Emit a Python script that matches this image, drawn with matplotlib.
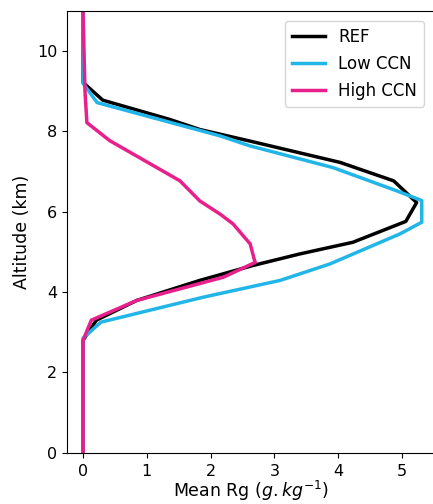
import matplotlib

matplotlib.use("Agg")
import matplotlib.pyplot as plt

# Mean graupel mixing ratio profiles (g/kg) against altitude (km)
ref_alt = [0.0, 2.8, 3.3, 3.79, 4.29, 4.66, 4.95, 5.24, 5.76, 6.23, 6.77, 7.23, 7.76, 8.05, 8.30, 8.78, 9.22, 11.0]
ref_rg = [0.0, 0.0, 0.21, 0.84, 1.83, 2.66, 3.40, 4.23, 5.06, 5.23, 4.87, 4.03, 2.62, 1.83, 1.36, 0.31, 0.0, 0.0]

low_alt = [0.0, 2.85, 3.25, 3.87, 4.29, 4.70, 5.45, 5.74, 6.28, 6.52, 7.10, 7.64, 7.89, 8.72, 9.2, 11.0]
low_rg = [0.0, 0.0, 0.28, 1.88, 3.09, 3.87, 4.97, 5.31, 5.31, 4.92, 3.92, 2.62, 2.15, 0.22, 0.0, 0.0]

high_alt = [0.0, 2.8, 3.3, 3.79, 4.37, 4.74, 4.78, 5.2, 5.7, 5.94, 6.27, 6.77, 7.77, 8.22, 9.0, 11.0]
high_rg = [0.0, 0.0, 0.13, 0.84, 2.2, 2.7, 2.69, 2.62, 2.35, 2.15, 1.83, 1.52, 0.42, 0.06, 0.03, 0.0]

fig = plt.figure(figsize=(4.33, 5.04), dpi=100)
ax = fig.add_axes([0.155, 0.102, 0.847, 0.876])

ax.plot(ref_rg, ref_alt, color="black", linewidth=2.5, label="REF")
ax.plot(low_rg, low_alt, color="#22b5e8", linewidth=2.5, label="Low CCN")
ax.plot(high_rg, high_alt, color="#e8208c", linewidth=2.5, label="High CCN")

ax.set_xlim(-0.25, 5.5)
ax.set_ylim(0, 11)
ax.set_xticks([0, 1, 2, 3, 4, 5])
ax.set_yticks([0, 2, 4, 6, 8, 10])
ax.tick_params(labelsize=11.5)
ax.tick_params(axis="x", pad=4.5)
ax.set_xlabel("Mean Rg ($g.kg^{-1}$)", fontsize=12.5, labelpad=0.5)
ax.set_ylabel("Altitude (km)", fontsize=12.5)
ax.legend(loc="upper right", fontsize=12, handlelength=2.0, labelspacing=0.55,
          borderaxespad=0.6)

fig.savefig("out.png", dpi=100)
